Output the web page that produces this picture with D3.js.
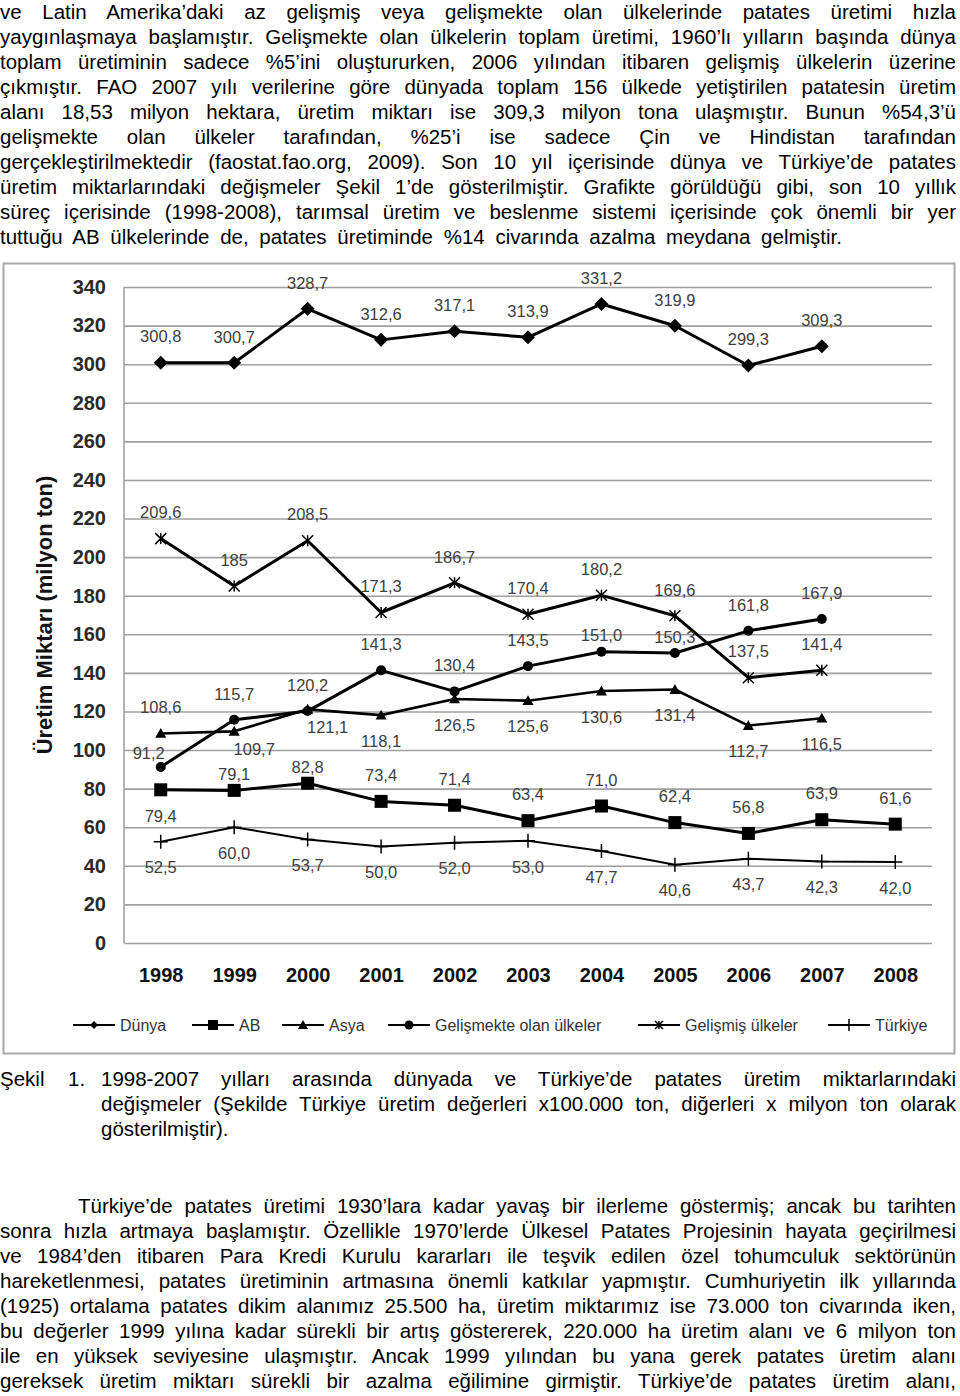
<!DOCTYPE html>
<html><head><meta charset="utf-8">
<script src="https://cdnjs.cloudflare.com/ajax/libs/d3/7.8.5/d3.min.js"></script>
<style>body{margin:0;background:#fff;}svg{display:block;}</style>
</head><body>
<svg id="page" width="960" height="1396"></svg>
<script>
// ---------- data ----------
const years = ["1998","1999","2000","2001","2002","2003","2004","2005","2006","2007","2008"];
const yTicks = [0,20,40,60,80,100,120,140,160,180,200,220,240,260,280,300,320,340];
const seriesNames = ["Dünya","AB","Asya","Gelişmekte olan ülkeler","Gelişmiş ülkeler","Türkiye"];
const dunya      = [300.8, 300.7, 328.7, 312.6, 317.1, 313.9, 331.2, 319.9, 299.3, 309.3];
const ab         = [79.4, 79.1, 82.8, 73.4, 71.4, 63.4, 71.0, 62.4, 56.8, 63.9, 61.6];
const asya       = [108.6, 109.7, 121.1, 118.1, 126.5, 125.6, 130.6, 131.4, 112.7, 116.5];
const gelismekte = [91.2, 115.7, 120.2, 141.3, 130.4, 143.5, 151.0, 150.3, 161.8, 167.9];
const gelismis   = [209.6, 185, 208.5, 171.3, 186.7, 170.4, 180.2, 169.6, 137.5, 141.4];
const turkiye    = [52.5, 60.0, 53.7, 50.0, 52.0, 53.0, 47.7, 40.6, 43.7, 42.3, 42.0];
// decimals shown in each data label
const gelismisDec = [1, 0, 1, 1, 1, 1, 1, 1, 1, 1];
// label placement codes (a = above, a2 = just above, b = below, al = above-left, br = below-right)
const dunyaLab      = ["a","a","a","a","a","a","a","a","a","a"];
const abLab         = ["b","a2","a2","a","a","a","a","a","a","a","a"];
const asyaLab       = ["a","br","br","b","b","b","b","b","b","b"];
const gelismekteLab = ["al","a","a","a","a","a","a2","a2","a","a"];
const gelismisLab   = ["a","a","a","a","a","a","a","a","a","a"];
const turkiyeLab    = ["b","b","b","b","b","b","b","b","b","b","b"];

const para1 = [
 "ve Latin Amerika’daki az gelişmiş veya gelişmekte olan ülkelerinde patates üretimi hızla",
 "yaygınlaşmaya başlamıştır. Gelişmekte olan ülkelerin toplam üretimi, 1960’lı yılların başında dünya",
 "toplam üretiminin sadece %5’ini oluştururken, 2006 yılından itibaren gelişmiş ülkelerin üzerine",
 "çıkmıştır. FAO 2007 yılı verilerine göre dünyada toplam 156 ülkede yetiştirilen patatesin üretim",
 "alanı 18,53 milyon hektara, üretim miktarı ise 309,3 milyon tona ulaşmıştır. Bunun %54,3’ü",
 "gelişmekte olan ülkeler tarafından, %25’i ise sadece Çin ve Hindistan tarafından",
 "gerçekleştirilmektedir (faostat.fao.org, 2009). Son 10 yıl içerisinde dünya ve Türkiye’de patates",
 "üretim miktarlarındaki değişmeler Şekil 1’de gösterilmiştir. Grafikte görüldüğü gibi, son 10 yıllık",
 "süreç içerisinde (1998-2008), tarımsal üretim ve beslenme sistemi içerisinde çok önemli bir yer",
 "tuttuğu AB ülkelerinde de, patates üretiminde %14 civarında azalma meydana gelmiştir."
];
const caption = [
 "1998-2007 yılları arasında dünyada ve Türkiye’de patates üretim miktarlarındaki",
 "değişmeler (Şekilde Türkiye üretim değerleri x100.000 ton, diğerleri x milyon ton olarak",
 "gösterilmiştir)."
];
const para2 = [
 "Türkiye’de patates üretimi 1930’lara kadar yavaş bir ilerleme göstermiş; ancak bu tarihten",
 "sonra hızla artmaya başlamıştır. Özellikle 1970’lerde Ülkesel Patates Projesinin hayata geçirilmesi",
 "ve 1984’den itibaren Para Kredi Kurulu kararları ile teşvik edilen özel tohumculuk sektörünün",
 "hareketlenmesi, patates üretiminin artmasına önemli katkılar yapmıştır. Cumhuriyetin ilk yıllarında",
 "(1925) ortalama patates dikim alanımız 25.500 ha, üretim miktarımız ise 73.000 ton civarında iken,",
 "bu değerler 1999 yılına kadar sürekli bir artış göstererek, 220.000 ha üretim alanı ve 6 milyon ton",
 "ile en yüksek seviyesine ulaşmıştır. Ancak 1999 yılından bu yana gerek patates üretim alanı",
 "gereksek üretim miktarı sürekli bir azalma eğilimine girmiştir. Türkiye’de patates üretim alanı,"
];

// ---------- page ----------
const svg = d3.select("#page");
const FONT = "'Liberation Sans', Arial, Helvetica, sans-serif";
const RIGHT = 956;
const FS = 20.5;

function justLine(x0, x1, y, str, justify) {
  const t = svg.append("text").attr("x", x0).attr("y", y)
    .attr("font-family", FONT).attr("font-size", FS).attr("fill", "#000")
    .text(str);
  if (justify) {
    const w = t.node().getComputedTextLength();
    const spaces = (str.match(/ /g) || []).length;
    if (spaces > 0) t.attr("word-spacing", (x1 - x0 - w) / spaces);
  }
  return t;
}
para1.forEach((s, i) => justLine(0, i < para1.length - 1 ? RIGHT : 842, 19 + 25 * i, s, true));
svg.append("text").attr("x", 0).attr("y", 1086).attr("font-family", FONT).attr("font-size", FS).text("Şekil");
svg.append("text").attr("x", 68).attr("y", 1086).attr("font-family", FONT).attr("font-size", FS).text("1.");
caption.forEach((s, i) => justLine(101, RIGHT, 1086 + 25 * i, s, i < caption.length - 1));
para2.forEach((s, i) => justLine(i === 0 ? 78 : 0, RIGHT, 1213 + 25 * i, s, true));

// ---------- chart ----------
svg.append("rect").attr("x", 3.5).attr("y", 263.5).attr("width", 951).attr("height", 790)
  .attr("fill", "#fff").attr("stroke", "#a8a8a8").attr("stroke-width", 2);

const x = d3.scalePoint().domain(years).range([124, 932]).padding(0.5);
const y = d3.scaleLinear().domain([0, 340]).range([943, 287]);

const grid = svg.append("g").attr("transform", "translate(124,0)")
  .call(d3.axisLeft(y).tickValues(yTicks).tickSize(-808).tickFormat(""));
grid.select(".domain").remove();
grid.selectAll("line").attr("stroke", "#a0a0a0").attr("stroke-width", 1.6);
svg.append("line").attr("x1", 124).attr("x2", 124).attr("y1", y(340)).attr("y2", y(0))
  .attr("stroke", "#a0a0a0").attr("stroke-width", 1.6);

const yax = svg.append("g").attr("transform", "translate(106,0)")
  .call(d3.axisLeft(y).tickValues(yTicks).tickSize(0).tickPadding(0));
yax.select(".domain").remove();
yax.selectAll("text").attr("font-family", FONT).attr("font-size", 20).attr("font-weight", "bold").attr("fill", "#2a2a2a");

const xax = svg.append("g").attr("transform", "translate(0,975)")
  .call(d3.axisBottom(x).tickSize(0).tickPadding(0));
xax.select(".domain").remove();
xax.selectAll("text").attr("font-family", FONT).attr("font-size", 20).attr("font-weight", "bold")
  .attr("fill", "#111").attr("dy", "0.35em");

svg.append("text").attr("transform", "translate(52,615) rotate(-90)")
  .attr("text-anchor", "middle").attr("font-family", FONT).attr("font-size", 22)
  .attr("font-weight", "bold").attr("fill", "#111").text("Üretim Miktarı (milyon ton)");

// markers
function marker(g, type, s) {
  if (type === "diamond") g.append("path").attr("d", `M0,${-s}L${s},0L0,${s}L${-s},0Z`).attr("fill", "#000");
  else if (type === "square") g.append("rect").attr("x", -s).attr("y", -s).attr("width", 2 * s).attr("height", 2 * s).attr("fill", "#000");
  else if (type === "triangle") g.append("path").attr("d", `M0,${-s}L${s},${s * 0.8}L${-s},${s * 0.8}Z`).attr("fill", "#000");
  else if (type === "circle") g.append("circle").attr("r", s).attr("fill", "#000");
  else if (type === "star") g.append("path").attr("d", `M${-s},${-s}L${s},${s}M${-s},${s}L${s},${-s}M0,${-s}L0,${s}`).attr("stroke", "#000").attr("stroke-width", 1.5).attr("fill", "none");
  else if (type === "plus") g.append("path").attr("d", `M${-s},0L${s},0M0,${-s}L0,${s}`).attr("stroke", "#000").attr("stroke-width", 1.5).attr("fill", "none");
}

const series = [
  { name: seriesNames[0], vals: dunya, lab: dunyaLab, m: "diamond", ms: 7, lms: 4, w: 3 },
  { name: seriesNames[1], vals: ab, lab: abLab, m: "square", ms: 6.5, lms: 5, w: 3 },
  { name: seriesNames[2], vals: asya, lab: asyaLab, m: "triangle", ms: 5.5, lms: 5, w: 2.6 },
  { name: seriesNames[3], vals: gelismekte, lab: gelismekteLab, m: "circle", ms: 5, lms: 4.5, w: 3 },
  { name: seriesNames[4], vals: gelismis, lab: gelismisLab, dec: gelismisDec, m: "star", ms: 5.5, lms: 4, w: 3 },
  { name: seriesNames[5], vals: turkiye, lab: turkiyeLab, m: "plus", ms: 7, lms: 6, w: 2 }
];

const line = d3.line().x((d, i) => x(years[i])).y(d => y(d));
const fmt = (v, d) => d3.format("." + d + "f")(v).replace(".", ",");
const off = { a: [0, -26], a2: [0, -16], b: [0, 26], al: [-12, -14], br: [20, 18] };

series.forEach(s => {
  svg.append("path").attr("d", line(s.vals)).attr("fill", "none").attr("stroke", "#000")
    .attr("stroke-width", s.w).attr("stroke-linejoin", "round");
});
series.forEach(s => {
  s.vals.forEach((v, i) => {
    const g = svg.append("g").attr("transform", `translate(${x(years[i])},${y(v)})`);
    marker(g, s.m, s.ms);
  });
});
series.forEach(s => {
  s.vals.forEach((v, i) => {
    const o = off[s.lab[i]];
    svg.append("text").attr("x", x(years[i]) + o[0]).attr("y", y(v) + o[1]).attr("dy", "0.35em")
      .attr("text-anchor", "middle").attr("font-family", FONT).attr("font-size", 16.5)
      .attr("fill", "#404040").text(fmt(v, s.dec ? s.dec[i] : 1));
  });
});

// legend
const legX = [73, 192, 282, 388, 638, 828];
series.forEach((s, i) => {
  const g = svg.append("g").attr("transform", `translate(${legX[i]},1025)`);
  g.append("line").attr("x1", 0).attr("x2", 42).attr("stroke", "#000").attr("stroke-width", 2);
  const mg = g.append("g").attr("transform", "translate(21,0)");
  marker(mg, s.m, s.lms);
  g.append("text").attr("x", 47).attr("dy", "0.35em").attr("font-family", FONT).attr("font-size", 16)
    .attr("fill", "#333").text(s.name);
});
</script>
</body></html>
